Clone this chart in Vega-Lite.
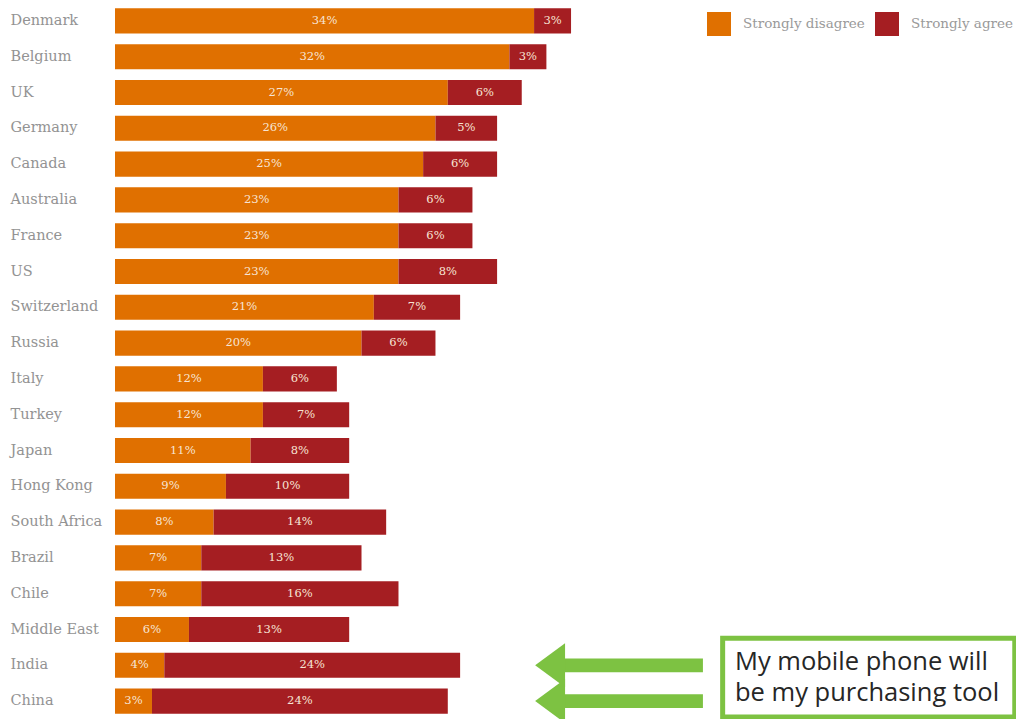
{
  "$schema": "https://vega.github.io/schema/vega-lite/v6.json",
  "width": 901,
  "height": 716,
  "autosize": {"type": "none"},
  "padding": {"left": 115, "top": 3, "right": 0, "bottom": 0},
  "background": "white",
  "config": {"view": {"stroke": null}, "font": "DejaVu Serif"},
  "datasets": {
    "bars": [
      {"country": "Denmark", "response": "Strongly disagree", "value": 34, "label": "34%", "order": 1},
      {"country": "Denmark", "response": "Strongly agree", "value": 3, "label": "3%", "order": 2},
      {"country": "Belgium", "response": "Strongly disagree", "value": 32, "label": "32%", "order": 1},
      {"country": "Belgium", "response": "Strongly agree", "value": 3, "label": "3%", "order": 2},
      {"country": "UK", "response": "Strongly disagree", "value": 27, "label": "27%", "order": 1},
      {"country": "UK", "response": "Strongly agree", "value": 6, "label": "6%", "order": 2},
      {"country": "Germany", "response": "Strongly disagree", "value": 26, "label": "26%", "order": 1},
      {"country": "Germany", "response": "Strongly agree", "value": 5, "label": "5%", "order": 2},
      {"country": "Canada", "response": "Strongly disagree", "value": 25, "label": "25%", "order": 1},
      {"country": "Canada", "response": "Strongly agree", "value": 6, "label": "6%", "order": 2},
      {"country": "Australia", "response": "Strongly disagree", "value": 23, "label": "23%", "order": 1},
      {"country": "Australia", "response": "Strongly agree", "value": 6, "label": "6%", "order": 2},
      {"country": "France", "response": "Strongly disagree", "value": 23, "label": "23%", "order": 1},
      {"country": "France", "response": "Strongly agree", "value": 6, "label": "6%", "order": 2},
      {"country": "US", "response": "Strongly disagree", "value": 23, "label": "23%", "order": 1},
      {"country": "US", "response": "Strongly agree", "value": 8, "label": "8%", "order": 2},
      {"country": "Switzerland", "response": "Strongly disagree", "value": 21, "label": "21%", "order": 1},
      {"country": "Switzerland", "response": "Strongly agree", "value": 7, "label": "7%", "order": 2},
      {"country": "Russia", "response": "Strongly disagree", "value": 20, "label": "20%", "order": 1},
      {"country": "Russia", "response": "Strongly agree", "value": 6, "label": "6%", "order": 2},
      {"country": "Italy", "response": "Strongly disagree", "value": 12, "label": "12%", "order": 1},
      {"country": "Italy", "response": "Strongly agree", "value": 6, "label": "6%", "order": 2},
      {"country": "Turkey", "response": "Strongly disagree", "value": 12, "label": "12%", "order": 1},
      {"country": "Turkey", "response": "Strongly agree", "value": 7, "label": "7%", "order": 2},
      {"country": "Japan", "response": "Strongly disagree", "value": 11, "label": "11%", "order": 1},
      {"country": "Japan", "response": "Strongly agree", "value": 8, "label": "8%", "order": 2},
      {"country": "Hong Kong", "response": "Strongly disagree", "value": 9, "label": "9%", "order": 1},
      {"country": "Hong Kong", "response": "Strongly agree", "value": 10, "label": "10%", "order": 2},
      {"country": "South Africa", "response": "Strongly disagree", "value": 8, "label": "8%", "order": 1},
      {"country": "South Africa", "response": "Strongly agree", "value": 14, "label": "14%", "order": 2},
      {"country": "Brazil", "response": "Strongly disagree", "value": 7, "label": "7%", "order": 1},
      {"country": "Brazil", "response": "Strongly agree", "value": 13, "label": "13%", "order": 2},
      {"country": "Chile", "response": "Strongly disagree", "value": 7, "label": "7%", "order": 1},
      {"country": "Chile", "response": "Strongly agree", "value": 16, "label": "16%", "order": 2},
      {"country": "Middle East", "response": "Strongly disagree", "value": 6, "label": "6%", "order": 1},
      {"country": "Middle East", "response": "Strongly agree", "value": 13, "label": "13%", "order": 2},
      {"country": "India", "response": "Strongly disagree", "value": 4, "label": "4%", "order": 1},
      {"country": "India", "response": "Strongly agree", "value": 24, "label": "24%", "order": 2},
      {"country": "China", "response": "Strongly disagree", "value": 3, "label": "3%", "order": 1},
      {"country": "China", "response": "Strongly agree", "value": 24, "label": "24%", "order": 2}
    ],
    "arrows": [
      {"country": "India", "start": 36.0, "end": 47.7, "tip": 35.3},
      {"country": "China", "start": 36.0, "end": 47.7, "tip": 35.3}
    ],
    "note": [
      {"country": "India", "country2": "China", "x": 49.3, "x2": 73.0, "tx": 50.3, "label": "My mobile phone will\nbe my purchasing tool"}
    ]
  },
  "layer": [
    {
      "data": {"name": "bars"},
      "transform": [
        {"stack": "value", "groupby": ["country"], "sort": [{"field": "order"}], "as": ["x0", "x1"]}
      ],
      "mark": {"type": "bar"},
      "encoding": {
        "y": {
          "field": "country", "type": "nominal",
          "sort": ["Denmark","Belgium","UK","Germany","Canada","Australia","France","US","Switzerland","Russia","Italy","Turkey","Japan","Hong Kong","South Africa","Brazil","Chile","Middle East","India","China"],
          "scale": {"paddingInner": 0.3, "paddingOuter": 0.15},
          "axis": {"title": null, "domain": false, "ticks": false, "labelAlign": "left", "labelPadding": 105, "labelFont": "DejaVu Serif", "labelFontSize": 14.5, "labelColor": "#939393"}
        },
        "x": {"field": "x0", "type": "quantitative", "scale": {"domain": [0, 73.1], "nice": false, "zero": true}, "axis": null},
        "x2": {"field": "x1"},
        "color": {
          "field": "response", "type": "nominal",
          "scale": {"domain": ["Strongly disagree", "Strongly agree"], "range": ["#E07000", "#A51E22"]},
          "legend": {
            "title": null, "orient": "none", "direction": "horizontal",
            "legendX": 592, "legendY": 9,
            "symbolType": "square", "symbolSize": 576, "symbolStrokeWidth": 0,
            "labelFont": "DejaVu Serif", "labelFontSize": 13.5, "labelColor": "#9a9a9a",
            "labelOffset": 12, "columnPadding": 10
          }
        }
      }
    },
    {
      "data": {"name": "bars"},
      "transform": [
        {"stack": "value", "groupby": ["country"], "sort": [{"field": "order"}], "as": ["x0", "x1"]},
        {"calculate": "(datum.x0 + datum.x1) / 2", "as": "mid"}
      ],
      "mark": {"type": "text", "align": "center", "baseline": "middle", "font": "DejaVu Serif", "fontSize": 11.5, "color": "#F7E4D4"},
      "encoding": {
        "y": {"field": "country", "type": "nominal", "sort": ["Denmark","Belgium","UK","Germany","Canada","Australia","France","US","Switzerland","Russia","Italy","Turkey","Japan","Hong Kong","South Africa","Brazil","Chile","Middle East","India","China"]},
        "x": {"field": "mid", "type": "quantitative"},
        "text": {"field": "label", "type": "nominal"}
      }
    },
    {
      "data": {"name": "arrows"},
      "mark": {"type": "bar", "color": "#7DC242", "height": {"band": 0.55}},
      "encoding": {
        "y": {"field": "country", "type": "nominal", "sort": ["Denmark","Belgium","UK","Germany","Canada","Australia","France","US","Switzerland","Russia","Italy","Turkey","Japan","Hong Kong","South Africa","Brazil","Chile","Middle East","India","China"]},
        "x": {"field": "start", "type": "quantitative"},
        "x2": {"field": "end"}
      }
    },
    {
      "data": {"name": "arrows"},
      "mark": {"type": "point", "filled": true, "opacity": 1, "color": "#7DC242", "shape": "M-0.68,0L0.68,-1L0.68,1Z", "size": 1936},
      "encoding": {
        "y": {"field": "country", "type": "nominal", "sort": ["Denmark","Belgium","UK","Germany","Canada","Australia","France","US","Switzerland","Russia","Italy","Turkey","Japan","Hong Kong","South Africa","Brazil","Chile","Middle East","India","China"]},
        "x": {"field": "tip", "type": "quantitative"}
      }
    },
    {
      "data": {"name": "note"},
      "mark": {"type": "rect", "fill": "white", "stroke": "#7DC242", "strokeWidth": 5, "clip": false, "yOffset": -27, "y2Offset": 16},
      "encoding": {
        "y": {"field": "country", "type": "nominal", "sort": ["Denmark","Belgium","UK","Germany","Canada","Australia","France","US","Switzerland","Russia","Italy","Turkey","Japan","Hong Kong","South Africa","Brazil","Chile","Middle East","India","China"]},
        "y2": {"field": "country2"},
        "x": {"field": "x", "type": "quantitative"},
        "x2": {"field": "x2"}
      }
    },
    {
      "data": {"name": "note"},
      "mark": {"type": "text", "align": "left", "baseline": "alphabetic", "font": "Open Sans", "fontSize": 25.5, "color": "#262626", "lineBreak": "\n", "lineHeight": 31, "yOffset": 5},
      "encoding": {
        "y": {"field": "country", "type": "nominal", "sort": ["Denmark","Belgium","UK","Germany","Canada","Australia","France","US","Switzerland","Russia","Italy","Turkey","Japan","Hong Kong","South Africa","Brazil","Chile","Middle East","India","China"]},
        "x": {"field": "tx", "type": "quantitative"},
        "text": {"field": "label"}
      }
    }
  ]
}
